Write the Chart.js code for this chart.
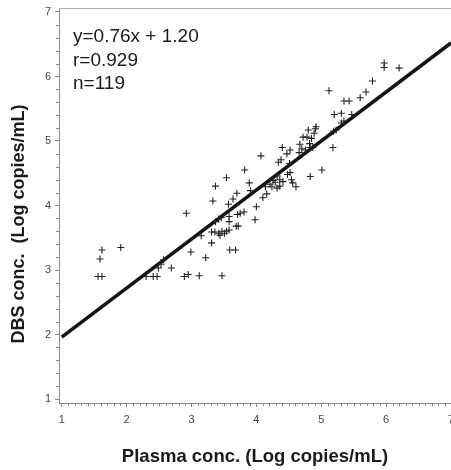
<!DOCTYPE html>
<html>
<head>
<meta charset="utf-8">
<script src="https://cdn.jsdelivr.net/npm/chart.js@4.4.1/dist/chart.umd.min.js"></script>
<style>
  html, body { margin: 0; padding: 0; background: #fff; }
  canvas { display: block; }
</style>
</head>
<body>
<canvas id="dbsChart" width="451" height="470"></canvas>
<script>
// Plasma vs DBS viral load, log copies/mL
const plasma = [
  1.62, 1.59, 1.56, 1.62, 1.91, 2.30, 2.41, 2.47, 2.49, 2.53,
  2.57, 2.69, 2.89, 2.95, 2.99, 3.12, 3.22, 3.31, 3.47, 3.59,
  3.68, 2.92, 3.15, 3.31, 3.36, 3.42, 3.47, 3.51, 3.54, 3.58,
  3.37, 3.42, 3.46, 3.58, 3.58, 3.69, 3.72, 3.71, 3.75, 3.81,
  3.98, 4.00, 3.57, 3.64, 3.33, 3.70, 3.37, 3.54, 3.82, 3.89,
  3.91, 4.10, 4.16, 4.14, 4.21, 4.24, 4.32, 4.36, 4.26, 4.32,
  4.36, 4.41, 4.54, 4.56, 4.48, 4.52, 4.61, 4.83, 5.01, 4.07,
  4.38, 4.34, 4.51, 4.40, 4.52, 4.47, 4.67, 4.82, 4.70, 4.76,
  4.83, 4.87, 4.72, 4.78, 4.85, 4.80, 4.91, 4.89, 5.18, 5.19,
  5.23, 5.31, 5.35, 5.20, 5.31, 5.47, 5.35, 5.43, 5.60, 5.69,
  5.79, 5.97, 5.97, 6.20, 5.12, 4.66, 3.44, 4.29, 4.92
];
const dbs = [
  3.31, 3.17, 2.90, 2.90, 3.35, 2.90, 2.90, 2.90, 3.03, 3.09,
  3.16, 3.03, 2.90, 2.93, 3.28, 2.91, 3.19, 3.42, 2.91, 3.31,
  3.31, 3.88, 3.53, 3.59, 3.59, 3.57, 3.60, 3.57, 3.60, 3.62,
  3.75, 3.79, 3.81, 3.75, 3.83, 3.68, 3.68, 3.86, 3.88, 3.90,
  3.78, 3.98, 4.02, 4.10, 4.07, 4.19, 4.30, 4.43, 4.55, 4.35,
  4.23, 4.12, 4.18, 4.29, 4.33, 4.29, 4.27, 4.30, 4.39, 4.46,
  4.40, 4.37, 4.40, 4.35, 4.48, 4.51, 4.29, 4.45, 4.55, 4.77,
  4.71, 4.67, 4.65, 4.90, 4.86, 4.80, 4.95, 4.96, 4.88, 4.86,
  4.90, 4.90, 5.06, 5.06, 5.04, 5.17, 5.19, 5.12, 4.90, 5.15,
  5.17, 5.28, 5.31, 5.41, 5.43, 5.41, 5.62, 5.62, 5.67, 5.76,
  5.93, 6.21, 6.14, 6.13, 5.78, 4.82, 3.54, 4.36, 5.22
];

// regression fit
const fitSlope = 0.76;
const fitIntercept = 1.20;
const fitRange = [1, 7];
const statLines = ['y=0.76x + 1.20', 'r=0.929', 'n=119'];

const xTitle = 'Plasma conc. (Log copies/mL)';
const yTitle = 'DBS conc.  (Log copies/mL)';

const axisGray = '#8a8a8a';

// minor ticks, top frame line, axis titles and stats text
const decorations = {
  id: 'decorations',
  afterDraw(chart) {
    const { ctx, chartArea, scales } = chart;
    const x = scales.x, y = scales.y;
    ctx.save();
    ctx.strokeStyle = axisGray;
    ctx.lineWidth = 1;
    ctx.beginPath();
    for (let i = 10; i <= 70; i++) {
      if (i % 10 === 0) continue;
      const px = Math.round(x.getPixelForValue(i / 10)) + 0.5;
      ctx.moveTo(px, chartArea.bottom);
      ctx.lineTo(px, chartArea.bottom + 3);
    }
    for (let i = 5; i <= 35; i++) {
      if (i % 5 === 0) continue;
      const py = Math.round(y.getPixelForValue(i / 5)) + 0.5;
      ctx.moveTo(chartArea.left, py);
      ctx.lineTo(chartArea.left - 3, py);
    }
    ctx.stroke();

    ctx.strokeStyle = '#b0b0b0';
    ctx.beginPath();
    ctx.moveTo(chartArea.left, chartArea.top + 0.5);
    ctx.lineTo(chartArea.right, chartArea.top + 0.5);
    ctx.stroke();

    ctx.fillStyle = '#1a1a1a';
    ctx.font = 'bold 18.5px "Liberation Sans", Arial, sans-serif';
    ctx.textAlign = 'center';
    ctx.textBaseline = 'middle';
    ctx.fillText(xTitle, 255, 457);
    ctx.font = 'bold 18px "Liberation Sans", Arial, sans-serif';
    ctx.translate(19, 224);
    ctx.rotate(-Math.PI / 2);
    ctx.fillText(yTitle, 0, 0);
    ctx.setTransform(1, 0, 0, 1, 0, 0);

    ctx.font = '19px "Liberation Sans", Arial, sans-serif';
    ctx.textAlign = 'left';
    ctx.textBaseline = 'alphabetic';
    statLines.forEach((t, i) => ctx.fillText(t, 73, 42 + i * 23.5));
    ctx.restore();
  }
};

new Chart(document.getElementById('dbsChart'), {
  type: 'scatter',
  data: {
    datasets: [
      {
        label: 'samples',
        data: plasma.map((v, i) => ({ x: v, y: dbs[i] })),
        pointStyle: 'cross',
        radius: 3.5,
        borderWidth: 1.1,
        borderColor: '#222',
        backgroundColor: '#222'
      },
      {
        label: 'fit',
        type: 'line',
        data: fitRange.map(v => ({ x: v, y: fitSlope * v + fitIntercept })),
        borderColor: '#141414',
        borderWidth: 3.5,
        pointRadius: 0,
        fill: false
      }
    ]
  },
  options: {
    responsive: false,
    animation: false,
    devicePixelRatio: 1,
    layout: { autoPadding: false, padding: { top: 8, right: 0, left: 0, bottom: 0 } },
    plugins: {
      legend: { display: false },
      tooltip: { enabled: false }
    },
    scales: {
      x: {
        type: 'linear',
        min: 0.958,
        max: 7,
        border: { color: axisGray, width: 1 },
        grid: { drawOnChartArea: false, tickLength: 4, tickColor: axisGray },
        ticks: {
          stepSize: 1,
          includeBounds: false,
          color: '#444',
          padding: 6,
          font: { family: '"Liberation Sans", Arial, sans-serif', size: 11 },
          maxRotation: 0
        },
        afterFit(scale) {
          scale.height = 67;
          scale.paddingRight = 0;
          scale.paddingLeft = 0;
        }
      },
      y: {
        type: 'linear',
        min: 0.938,
        max: 7.062,
        border: { color: axisGray, width: 1 },
        grid: { drawOnChartArea: false, tickLength: 4, tickColor: axisGray },
        ticks: {
          stepSize: 1,
          includeBounds: false,
          color: '#444',
          padding: 4,
          font: { family: '"Liberation Sans", Arial, sans-serif', size: 11 }
        },
        afterFit(scale) {
          scale.width = 59;
          scale.paddingTop = 0;
          scale.paddingBottom = 0;
        }
      }
    }
  },
  plugins: [decorations]
});
</script>
</body>
</html>
